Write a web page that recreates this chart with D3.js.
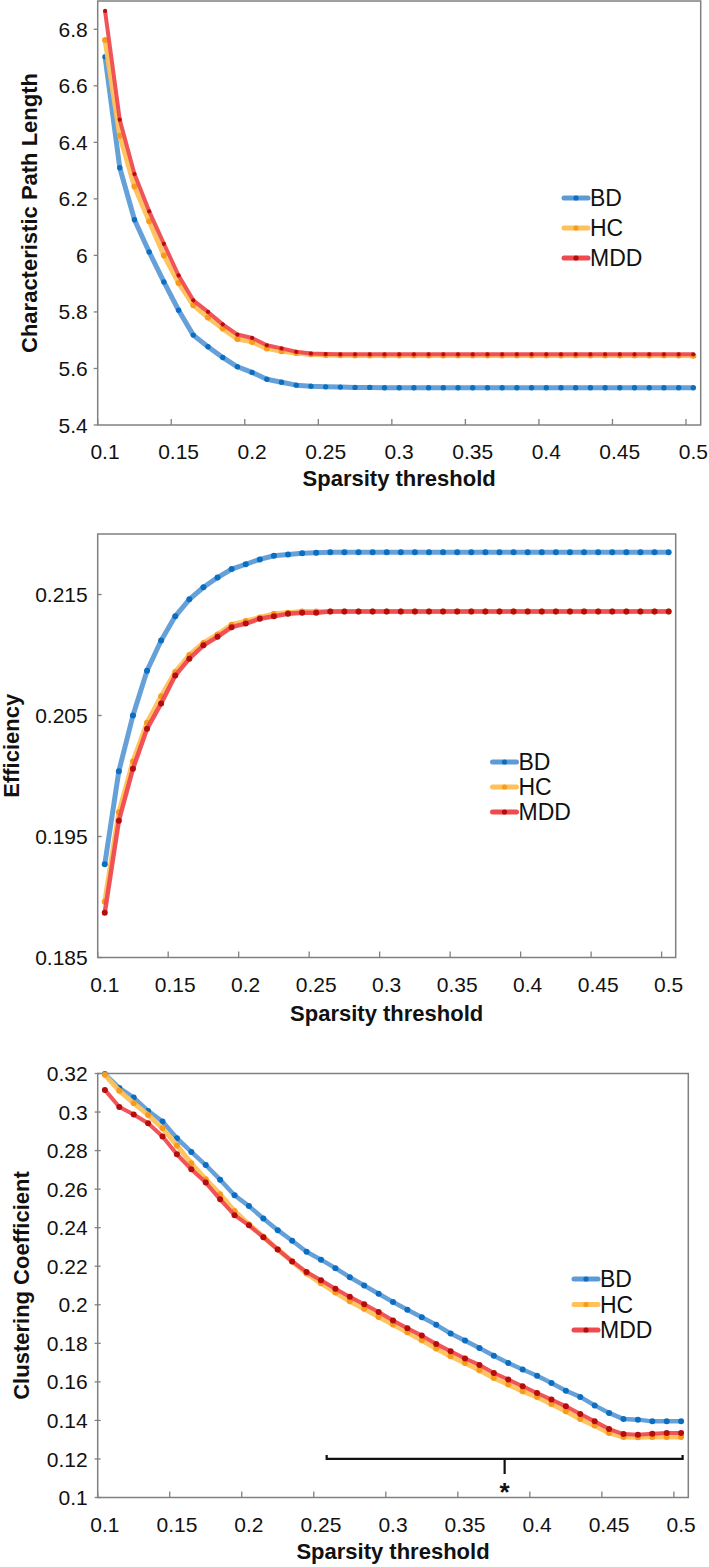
<!DOCTYPE html>
<html>
<head>
<meta charset="utf-8">
<script src="https://cdn.jsdelivr.net/npm/d3@7"></script>
<style>
  html, body { margin: 0; padding: 0; background: #fff; }
  svg { display: block; font-family: Arial, "Liberation Sans", sans-serif; }
</style>
</head>
<body>
<svg id="chart" width="709" height="1567"></svg>
<script>
// ---------- DATA ----------
const thresholds = [0.10,0.11,0.12,0.13,0.14,0.15,0.16,0.17,0.18,0.19,
                    0.20,0.21,0.22,0.23,0.24,0.25,0.26,0.27,0.28,0.29,
                    0.30,0.31,0.32,0.33,0.34,0.35,0.36,0.37,0.38,0.39,
                    0.40,0.41,0.42,0.43,0.44,0.45,0.46,0.47,0.48,0.49,0.50];
const groups = ["BD", "HC", "MDD"];
const xTickValues = [0.10,0.15,0.20,0.25,0.30,0.35,0.40,0.45,0.50];
const xTickLabels = ["0.1","0.15","0.2","0.25","0.3","0.35","0.4","0.45","0.5"];

// Characteristic Path Length
const cplBD  = [6.703,6.310,6.126,6.012,5.906,5.806,5.718,5.677,5.639,5.606,
                5.586,5.562,5.551,5.541,5.537,5.535,5.534,5.533,5.533,5.532,
                5.532,5.532,5.532,5.532,5.532,5.532,5.532,5.532,5.532,5.532,
                5.532,5.532,5.532,5.532,5.532,5.532,5.532,5.532,5.532,5.532,5.532];
const cplHC  = [6.762,6.423,6.244,6.121,6.000,5.902,5.824,5.780,5.741,5.704,
                5.694,5.671,5.661,5.655,5.650,5.648,5.647,5.646,5.646,5.646,
                5.646,5.646,5.646,5.646,5.646,5.646,5.646,5.646,5.646,5.646,
                5.646,5.646,5.646,5.646,5.646,5.646,5.646,5.646,5.646,5.646,5.645];
const cplMDD = [6.865,6.480,6.288,6.156,6.041,5.929,5.841,5.800,5.756,5.720,
                5.708,5.682,5.671,5.659,5.653,5.651,5.650,5.650,5.650,5.650,
                5.650,5.650,5.650,5.650,5.650,5.650,5.650,5.650,5.650,5.650,
                5.650,5.650,5.650,5.650,5.650,5.650,5.650,5.650,5.650,5.650,5.650];
const cplTicks = [5.4,5.6,5.8,6.0,6.2,6.4,6.6,6.8];
const cplTickLabels = ["5.4","5.6","5.8","6","6.2","6.4","6.6","6.8"];

// Efficiency
const effBD  = [0.1927,0.2004,0.2050,0.2087,0.2112,0.2132,0.2146,0.2156,0.2164,0.2171,
                0.2175,0.2179,0.2182,0.2183,0.2184,0.21845,0.2185,0.2185,0.2185,0.2185,
                0.2185,0.2185,0.2185,0.2185,0.2185,0.2185,0.2185,0.2185,0.2185,0.2185,
                0.2185,0.2185,0.2185,0.2185,0.2185,0.2185,0.2185,0.2185,0.2185,0.2185,0.2185];
const effHC  = [0.1896,0.1970,0.2012,0.2044,0.2066,0.2086,0.2100,0.2110,0.2117,0.2125,
                0.2128,0.2131,0.2134,0.2135,0.2136,0.2136,0.2136,0.2136,0.2136,0.2136,
                0.2136,0.2136,0.2136,0.2136,0.2136,0.2136,0.2136,0.2136,0.2136,0.2136,
                0.2136,0.2136,0.2136,0.2136,0.2136,0.2136,0.2136,0.2136,0.2136,0.2136,0.2136];
const effMDD = [0.1887,0.1963,0.2006,0.2039,0.2060,0.2083,0.2097,0.2108,0.2115,0.2123,
                0.2126,0.2130,0.2132,0.2134,0.2135,0.2135,0.2136,0.2136,0.2136,0.2136,
                0.2136,0.2136,0.2136,0.2136,0.2136,0.2136,0.2136,0.2136,0.2136,0.2136,
                0.2136,0.2136,0.2136,0.2136,0.2136,0.2136,0.2136,0.2136,0.2136,0.2136,0.2136];
const effTicks = [0.185,0.195,0.205,0.215];
const effTickLabels = ["0.185","0.195","0.205","0.215"];

// Clustering Coefficient
const ccBD  = [0.3197,0.3125,0.3075,0.3006,0.2951,0.2864,0.2793,0.2725,0.2649,0.2568,
               0.2512,0.2448,0.2387,0.2332,0.2275,0.2234,0.2190,0.2143,0.2100,0.2057,
               0.2014,0.1974,0.1935,0.1896,0.1851,0.1814,0.1776,0.1736,0.1698,0.1664,
               0.1632,0.1594,0.1554,0.1522,0.1478,0.1439,0.1407,0.1404,0.1395,0.1395,0.1395];
const ccHC  = [0.3193,0.3110,0.3046,0.2985,0.2916,0.2827,0.2734,0.2651,0.2573,0.2486,
               0.2417,0.2353,0.2287,0.2225,0.2162,0.2112,0.2064,0.2018,0.1979,0.1937,
               0.1897,0.1857,0.1816,0.1773,0.1733,0.1698,0.1660,0.1620,0.1586,0.1551,
               0.1522,0.1485,0.1447,0.1407,0.1373,0.1335,0.1314,0.1312,0.1314,0.1314,0.1314];
const ccMDD = [0.3115,0.3026,0.2987,0.2942,0.2873,0.2781,0.2703,0.2634,0.2547,0.2465,
               0.2412,0.2351,0.2287,0.2225,0.2170,0.2127,0.2083,0.2041,0.2003,0.1962,
               0.1918,0.1878,0.1840,0.1797,0.1759,0.1721,0.1688,0.1646,0.1612,0.1577,
               0.1542,0.1508,0.1473,0.1433,0.1395,0.1355,0.1329,0.1326,0.1331,0.1335,0.1335];
const ccTicks = [0.10,0.12,0.14,0.16,0.18,0.20,0.22,0.24,0.26,0.28,0.30,0.32];
const ccTickLabels = ["0.1","0.12","0.14","0.16","0.18","0.2","0.22","0.24","0.26","0.28","0.3","0.32"];

// significance bracket (threshold range) and its level
const bracketRange = [0.26, 0.50];
const bracketLevel = 0.12;

// ---------- STYLE ----------
const lineColor = { BD: "#5d9bd6", HC: "#ffc15a", MDD: "#ef4a4f" };
const dotColor  = { BD: "#0a6fc2", HC: "#f79b1c", MDD: "#b50c0c" };
const axisColor = "#808080";

const svg = d3.select("#chart");

function drawPanel(p) {
  const g = svg.append("g");
  const x = d3.scaleBand().domain(thresholds).range([p.left, p.right]).padding(0);
  const bw = x.bandwidth();
  const cx = t => x(t) + bw / 2;
  const y = d3.scaleLinear().domain(p.yDomain).range([p.bottom, p.top]);

  // frame
  g.append("rect")
    .attr("x", p.left).attr("y", p.top)
    .attr("width", p.right - p.left).attr("height", p.bottom - p.top)
    .attr("fill", "none").attr("stroke", axisColor).attr("stroke-width", 1.5);

  // y ticks
  p.yTicks.forEach((v, i) => {
    const yy = y(v);
    g.append("line")
      .attr("x1", p.left - p.yTickOut).attr("x2", p.left + p.yTickIn)
      .attr("y1", yy).attr("y2", yy)
      .attr("stroke", axisColor).attr("stroke-width", 1.3);
    g.append("text")
      .attr("x", p.left - 10).attr("y", yy)
      .attr("dy", "0.36em")
      .attr("text-anchor", "end")
      .attr("font-size", 21).attr("fill", "#111")
      .text(p.yTickLabels[i]);
  });

  // x ticks (tick marks between categories, labels on categories)
  xTickValues.forEach((t, i) => {
    const xx = x(t);
    g.append("line")
      .attr("x1", xx).attr("x2", xx)
      .attr("y1", p.bottom).attr("y2", p.bottom - 6)
      .attr("stroke", axisColor).attr("stroke-width", 1.3);
    g.append("text")
      .attr("x", cx(t)).attr("y", p.bottom + 34)
      .attr("text-anchor", "middle")
      .attr("font-size", 21).attr("fill", "#111")
      .text(xTickLabels[i]);
  });

  // axis titles
  g.append("text")
    .attr("x", (p.left + p.right) / 2).attr("y", p.bottom + p.xTitleOffset)
    .attr("text-anchor", "middle")
    .attr("font-size", 22).attr("font-weight", "bold").attr("fill", "#111")
    .text("Sparsity threshold");
  g.append("text")
    .attr("transform", `translate(${p.yTitleX},${(p.top + p.bottom) / 2}) rotate(-90)`)
    .attr("text-anchor", "middle")
    .attr("font-size", 22).attr("font-weight", "bold").attr("fill", "#111")
    .text(p.yTitle);

  // series
  const line = d3.line().x(d => cx(d.t)).y(d => y(d.v));
  groups.forEach(k => {
    const pts = thresholds.map((t, i) => ({ t, v: p.series[k][i] }));
    g.append("path")
      .datum(pts)
      .attr("d", line)
      .attr("fill", "none")
      .attr("stroke", lineColor[k])
      .attr("stroke-width", p.lineWidth[k])
      .attr("stroke-opacity", 0.95)
      .attr("stroke-linejoin", "round");
    g.selectAll(null).data(pts).enter().append("circle")
      .attr("cx", d => cx(d.t)).attr("cy", d => y(d.v))
      .attr("r", p.dotR[k])
      .attr("fill", dotColor[k]);
  });

  // legend
  groups.forEach((k, i) => {
    const ly = p.legend.y + i * p.legend.dy;
    g.append("line")
      .attr("x1", p.legend.x).attr("x2", p.legend.x + 24)
      .attr("y1", ly).attr("y2", ly)
      .attr("stroke", lineColor[k]).attr("stroke-width", 5)
      .attr("stroke-linecap", "round");
    g.append("circle")
      .attr("cx", p.legend.x + 12).attr("cy", ly).attr("r", 2.6)
      .attr("fill", dotColor[k]);
    g.append("text")
      .attr("x", p.legend.x + 26).attr("y", ly)
      .attr("dy", "0.36em")
      .attr("font-size", 23).attr("fill", "#111")
      .text(k);
  });

  return { x, y, cx, bw };
}

// Panel 1
drawPanel({
  left: 97.7, right: 700.7, top: 1, bottom: 425,
  yDomain: [5.4, 6.9], yTicks: cplTicks, yTickLabels: cplTickLabels,
  yTickOut: 4, yTickIn: 0,
  yTitle: "Characteristic Path Length", yTitleX: 37, xTitleOffset: 61,
  series: { BD: cplBD, HC: cplHC, MDD: cplMDD },
  lineWidth: { BD: 5, HC: 5, MDD: 4 },
  dotR: { BD: 2.7, HC: 3, MDD: 2.1 },
  legend: { x: 564, y: 198, dy: 30 }
});

// Panel 2
drawPanel({
  left: 97.7, right: 675.7, top: 534, bottom: 957.5,
  yDomain: [0.185, 0.22], yTicks: effTicks, yTickLabels: effTickLabels,
  yTickOut: 0, yTickIn: 4,
  yTitle: "Efficiency", yTitleX: 19, xTitleOffset: 63,
  series: { BD: effBD, HC: effHC, MDD: effMDD },
  lineWidth: { BD: 5, HC: 5, MDD: 4.5 },
  dotR: { BD: 3, HC: 3, MDD: 3 },
  legend: { x: 492.5, y: 762, dy: 25 }
});

// Panel 3
const p3 = {
  left: 97.7, right: 688.3, top: 1073.5, bottom: 1497.5,
  yDomain: [0.1, 0.32], yTicks: ccTicks, yTickLabels: ccTickLabels,
  yTickOut: 3, yTickIn: 3,
  yTitle: "Clustering Coefficient", yTitleX: 29, xTitleOffset: 61.5,
  series: { BD: ccBD, HC: ccHC, MDD: ccMDD },
  lineWidth: { BD: 4.5, HC: 5, MDD: 4 },
  dotR: { BD: 3, HC: 3, MDD: 3 },
  legend: { x: 574, y: 1279, dy: 25.5 }
};
const s3 = drawPanel(p3);

// significance bracket
{
  const x0 = s3.x(bracketRange[0]) - 1.5;
  const x1 = s3.cx(bracketRange[1]) + 1.5;
  const yb = s3.y(bracketLevel);
  const xm = (x0 + x1) / 2;
  svg.append("path")
    .attr("d", `M${x0},${yb - 4}V${yb}H${x1}V${yb - 4}M${xm},${yb}V${yb + 15}`)
    .attr("fill", "none").attr("stroke", "#111").attr("stroke-width", 2.2);
  svg.append("text")
    .attr("x", xm).attr("y", yb + 42)
    .attr("text-anchor", "middle")
    .attr("font-size", 26).attr("font-weight", "bold").attr("fill", "#111")
    .text("*");
}
</script>
</body>
</html>
